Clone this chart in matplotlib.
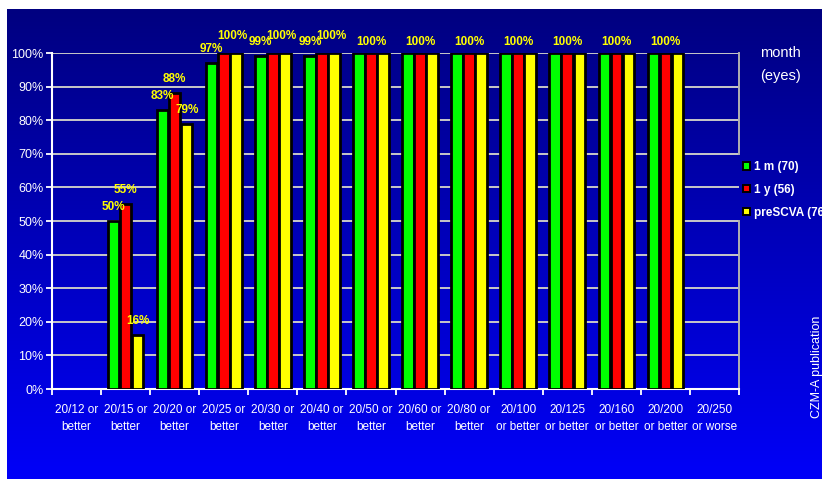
import numpy as np
import matplotlib
matplotlib.use("Agg")
import matplotlib.pyplot as plt
from matplotlib.patches import Patch
import matplotlib.transforms as mtransforms

plt.rcParams['font.family'] = ['Liberation Sans', 'DejaVu Sans']

# Visual acuity thresholds
categories = ["20/12 or\nbetter", "20/15 or\nbetter", "20/20 or\nbetter",
              "20/25 or\nbetter", "20/30 or\nbetter", "20/40 or\nbetter",
              "20/50 or\nbetter", "20/60 or\nbetter", "20/80 or\nbetter",
              "20/100\nor better", "20/125\nor better", "20/160\nor better",
              "20/200\nor better", "20/250\nor worse"]

# Cumulative percentage of eyes per follow-up group (NaN = no bar)
one_month = [np.nan, 50, 83, 97, 99, 99, 100, 100, 100, 100, 100, 100, 100, np.nan]
one_year = [np.nan, 55, 88, 100, 100, 100, 100, 100, 100, 100, 100, 100, 100, np.nan]
pre_scva = [np.nan, 16, 79, 100, 100, 100, 100, 100, 100, 100, 100, 100, 100, np.nan]

series_names = ["1 m (70)", "1 y (56)", "preSCVA (76)"]
series_colors = ["#00ff00", "#ff0000", "#ffff00"]
y_ticks = list(range(0, 101, 10))

W, H = 822, 479
fig = plt.figure(figsize=(W / 100, H / 100), dpi=100, facecolor="white")

# Blue gradient backdrop
bg = fig.add_axes([7 / W, 0, 1 - 7 / W, 1 - 9 / H], zorder=0)
grad = np.linspace(0, 1, 256).reshape(-1, 1)
top_c = np.array([0, 0, 128]) / 255
bot_c = np.array([0, 0, 248]) / 255
img = top_c[None, None, :] * (1 - grad[:, :, None]) + bot_c[None, None, :] * grad[:, :, None]
bg.imshow(img, aspect="auto", extent=[0, 1, 0, 1], origin="upper")
bg.set_axis_off()

left, right, top, bottom = 52, 739, 53, 389
ax = fig.add_axes([left / W, (H - bottom) / H, (right - left) / W, (bottom - top) / H], zorder=2)
ax.patch.set_alpha(0)

n = len(categories)
x = np.arange(n)
bw = 0.235
step = 0.245
data = [one_month, one_year, pre_scva]
for k, (vals, col) in enumerate(zip(data, series_colors)):
    ax.bar(x + (k - 1) * step, vals, width=bw, color=col, edgecolor="black",
           linewidth=2.0, zorder=3)

ax.set_xlim(-0.5, n - 0.5)
ax.set_ylim(0, 100)
ax.set_yticks(y_ticks)
ax.set_yticklabels([f"{v}%" for v in y_ticks], color="white", fontsize=9)
ax.yaxis.grid(True, color="#c8c8c8", linewidth=1.4, zorder=1)
ax.set_axisbelow(True)

ax.set_xticks(np.arange(n + 1) - 0.5)
ax.set_xticklabels([])
ax.set_xticks(x, minor=True)
ax.set_xticklabels(categories, minor=True, color="white", fontsize=8.5, linespacing=1.5)
ax.tick_params(axis="x", which="minor", length=0, pad=11)
ax.tick_params(axis="x", which="major", length=4, width=1.3, color="white", direction="out")
ax.tick_params(axis="y", length=4, width=1.3, color="white", direction="out", pad=2)

for s in ["left", "bottom"]:
    ax.spines[s].set_color("white")
    ax.spines[s].set_linewidth(1.5)
ax.spines["top"].set_visible(False)
ax.spines["right"].set_visible(False)
# Right border of the plot area, interrupted behind the legend
for y0, y1 in [(0, 0.5), (0.7, 1.0)]:
    ax.axvline(n - 0.5, ymin=y0, ymax=y1, color="#b0b0b0", linewidth=1.4, clip_on=False)

# Value labels
lab_kw = dict(color="#ffff00", fontsize=8.5, fontweight="bold", ha="center", va="center",
              zorder=5, clip_on=False)
for i in range(n):
    vals = [d[i] for d in data]
    if np.all(np.isnan(vals)):
        continue
    xs = [i + (k - 1) * step for k in range(3)]
    if all(v == 100 for v in vals):
        off = mtransforms.offset_copy(ax.transData, fig=fig, x=0, y=11, units="dots")
        ax.text(i, 100, "100%", transform=off, **lab_kw)
        continue
    full = [k for k, v in enumerate(vals) if v == 100]
    if full:
        xc = np.mean([xs[k] for k in full])
        off = mtransforms.offset_copy(ax.transData, fig=fig, x=3, y=17, units="dots")
        ax.text(xc, 100, "100%", transform=off, **lab_kw)
    for k, v in enumerate(vals):
        if v == 100:
            continue
        off = mtransforms.offset_copy(ax.transData, fig=fig, x=0, y=14, units="dots")
        ax.text(xs[k], v, f"{v:.0f}%", transform=off, **lab_kw)

# Legend
handles = [Patch(facecolor=c, edgecolor="black", linewidth=1.4) for c in series_colors]
leg = fig.legend(handles, series_names, loc="upper left",
                 bbox_to_anchor=(735 / W, (H - 153) / H), frameon=False,
                 handlelength=0.6, handleheight=0.6, handletextpad=0.35,
                 labelspacing=0.9, borderpad=0.2,
                 prop={"weight": "bold", "size": 8.5})
for t in leg.get_texts():
    t.set_color("white")

fig.text(780 / W, (H - 53) / H, "month", color="white", fontsize=10.5, ha="center", va="center")
fig.text(780 / W, (H - 76) / H, "(eyes)", color="white", fontsize=10.5, ha="center", va="center")
fig.text(817 / W, (H - 367) / H, "CZM-A publication", color="white", fontsize=9,
         rotation=90, ha="center", va="center")

fig.savefig("out.png", dpi=100, facecolor="white")
